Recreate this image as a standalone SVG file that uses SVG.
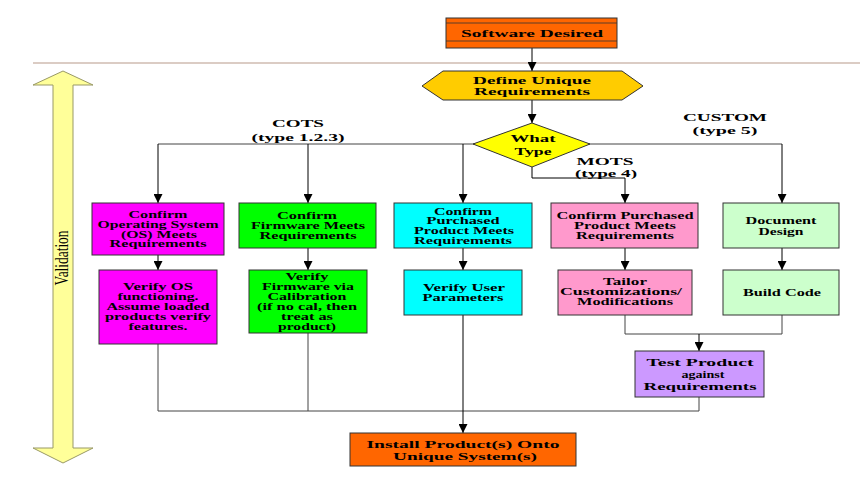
<svg xmlns="http://www.w3.org/2000/svg" width="860" height="485" viewBox="0 0 860 485">
<defs>
<marker id="ah" viewBox="0 0 10 10" refX="10" refY="5" markerWidth="9" markerHeight="9" markerUnits="userSpaceOnUse" orient="auto">
<path d="M0,0 L10,5 L0,10 z" fill="#000"/>
</marker>
<style>
.t{font-family:'Liberation Serif','DejaVu Serif','Times New Roman',serif;font-weight:bold;fill:#000;text-anchor:middle}
.s{font-size:9.5px}
.m{font-size:11px}
.l{font-size:11px}
.box{stroke:#333;stroke-width:1}
.c{fill:none;stroke:#444;stroke-width:1}
.a{fill:none;stroke:#000;stroke-width:1;marker-end:url(#ah)}
</style>
</defs>
<rect width="860" height="485" fill="#fff"/>
<line x1="33" y1="63" x2="860" y2="63" stroke="#B89A8A" stroke-width="1.2"/>
<g id="validation">
<polygon points="63,71 93,85 73,85 73,448 93,448 63,463 33,448 53,448 53,85 33,85" fill="#FFFF99" stroke="#999966" stroke-width="1"/>
<text class="t" transform="translate(68,258) rotate(-90)" style="font-size:18px;font-weight:normal" textLength="55" lengthAdjust="spacingAndGlyphs">Validation</text>
</g>
<g id="connectors">
<line class="a" x1="532" y1="48" x2="532" y2="71"/>
<line class="a" x1="532" y1="100" x2="532" y2="123"/>
<line class="c" x1="158" y1="144" x2="782" y2="144"/>
<line class="a" x1="158" y1="144" x2="158" y2="203"/>
<line class="a" x1="308" y1="144" x2="308" y2="203"/>
<line class="a" x1="463" y1="144" x2="463" y2="203"/>
<line class="a" x1="782" y1="144" x2="782" y2="203"/>
<polyline class="a" points="532,167 532,178 625,178 625,203"/>
<line class="a" x1="158" y1="255" x2="158" y2="270"/>
<line class="a" x1="308" y1="248" x2="308" y2="270"/>
<line class="a" x1="463" y1="248" x2="463" y2="270"/>
<line class="a" x1="625" y1="248" x2="625" y2="270"/>
<line class="a" x1="782" y1="248" x2="782" y2="270"/>
<polyline class="c" points="625,315 625,334 782,334 782,315"/>
<line class="a" x1="699" y1="334" x2="699" y2="351"/>
<line class="c" x1="158" y1="344" x2="158" y2="411"/>
<line class="c" x1="308" y1="333" x2="308" y2="411"/>
<line class="c" x1="699" y1="397" x2="699" y2="411"/>
<line class="c" x1="158" y1="411" x2="699" y2="411"/>
<line class="a" x1="463" y1="315" x2="463" y2="433"/>
</g>
<g id="software-desired">
<rect class="box" x="446" y="18" width="171" height="30" fill="#FF6600"/>
<line x1="446" y1="23" x2="617" y2="23" stroke="#333" stroke-width="0.8"/>
<line x1="446" y1="41" x2="617" y2="41" stroke="#333" stroke-width="0.8"/>
<text class="t m" x="532" y="37" textLength="142" lengthAdjust="spacingAndGlyphs">Software Desired</text>
</g>
<g id="define-requirements">
<polygon class="box" points="422,86 443,71 622,71 643,86 622,100 443,100" fill="#FFCC00" stroke="#999"/>
<text class="t m" x="532" y="84" textLength="118" lengthAdjust="spacingAndGlyphs">Define Unique</text>
<text class="t m" x="532" y="95" textLength="116" lengthAdjust="spacingAndGlyphs">Requirements</text>
</g>
<g id="what-type">
<polygon class="box" points="532,123 590,144 532,167 473,144" fill="#FFFF00" stroke="#999"/>
<text class="t m" x="533" y="142" textLength="45" lengthAdjust="spacingAndGlyphs">What</text>
<text class="t m" x="533" y="155" textLength="37" lengthAdjust="spacingAndGlyphs">Type</text>
</g>
<g id="labels">
<text class="t m" x="298" y="127" textLength="52" lengthAdjust="spacingAndGlyphs">COTS</text>
<text class="t m" x="298" y="141" textLength="93" lengthAdjust="spacingAndGlyphs">(type 1.2.3)</text>
<text class="t m" x="725" y="121" textLength="84" lengthAdjust="spacingAndGlyphs">CUSTOM</text>
<text class="t m" x="725" y="134" textLength="65" lengthAdjust="spacingAndGlyphs">(type 5)</text>
<text class="t m" x="605" y="165" textLength="57" lengthAdjust="spacingAndGlyphs">MOTS</text>
<text class="t m" x="606" y="177" textLength="62" lengthAdjust="spacingAndGlyphs">(type 4)</text>
</g>
<g id="confirm-os">
<rect class="box" x="92" y="203" width="132" height="52" fill="#FF00FF"/>
<text class="t s" x="158" y="218" textLength="59" lengthAdjust="spacingAndGlyphs">Confirm</text>
<text class="t s" x="158" y="228" textLength="121" lengthAdjust="spacingAndGlyphs">Operating System</text>
<text class="t s" x="159" y="238" textLength="76" lengthAdjust="spacingAndGlyphs">(OS) Meets</text>
<text class="t s" x="158" y="247" textLength="97" lengthAdjust="spacingAndGlyphs">Requirements</text>
</g>
<g id="verify-os">
<rect class="box" x="99" y="270" width="118" height="74" fill="#FF00FF"/>
<text class="t s" x="158" y="290" textLength="70" lengthAdjust="spacingAndGlyphs">Verify OS</text>
<text class="t s" x="158" y="300" textLength="81" lengthAdjust="spacingAndGlyphs">functioning.</text>
<text class="t s" x="158" y="310" textLength="103" lengthAdjust="spacingAndGlyphs">Assume loaded</text>
<text class="t s" x="158" y="320" textLength="106" lengthAdjust="spacingAndGlyphs">products verify</text>
<text class="t s" x="158" y="330" textLength="59" lengthAdjust="spacingAndGlyphs">features.</text>
</g>
<g id="confirm-firmware">
<rect class="box" x="239" y="203" width="137" height="45" fill="#00FF00"/>
<text class="t s" x="307" y="219" textLength="60" lengthAdjust="spacingAndGlyphs">Confirm</text>
<text class="t s" x="308" y="229" textLength="114" lengthAdjust="spacingAndGlyphs">Firmware Meets</text>
<text class="t s" x="308" y="239" textLength="97" lengthAdjust="spacingAndGlyphs">Requirements</text>
</g>
<g id="verify-firmware">
<rect class="box" x="249" y="270" width="118" height="63" fill="#00FF00"/>
<text class="t s" x="307" y="280" textLength="43" lengthAdjust="spacingAndGlyphs">Verify</text>
<text class="t s" x="308" y="290" textLength="92" lengthAdjust="spacingAndGlyphs">Firmware via</text>
<text class="t s" x="307" y="300" textLength="79" lengthAdjust="spacingAndGlyphs">Calibration</text>
<text class="t s" x="307" y="310" textLength="100" lengthAdjust="spacingAndGlyphs">(if no cal, then</text>
<text class="t s" x="307" y="320" textLength="52" lengthAdjust="spacingAndGlyphs">treat as</text>
<text class="t s" x="307" y="330" textLength="58" lengthAdjust="spacingAndGlyphs">product)</text>
</g>
<g id="confirm-purchased-cots">
<rect class="box" x="394" y="203" width="138" height="45" fill="#00FFFF"/>
<text class="t s" x="463" y="215" textLength="58" lengthAdjust="spacingAndGlyphs">Confirm</text>
<text class="t s" x="463" y="224" textLength="73" lengthAdjust="spacingAndGlyphs">Purchased</text>
<text class="t s" x="464" y="234" textLength="100" lengthAdjust="spacingAndGlyphs">Product Meets</text>
<text class="t s" x="463" y="244" textLength="98" lengthAdjust="spacingAndGlyphs">Requirements</text>
</g>
<g id="verify-user">
<rect class="box" x="404" y="270" width="118" height="45" fill="#00FFFF"/>
<text class="t s" x="464" y="291" textLength="82" lengthAdjust="spacingAndGlyphs">Verify User</text>
<text class="t s" x="463" y="301" textLength="81" lengthAdjust="spacingAndGlyphs">Parameters</text>
</g>
<g id="confirm-purchased-mots">
<rect class="box" x="551" y="203" width="147" height="45" fill="#FF99CC"/>
<text class="t s" x="625" y="219" textLength="137" lengthAdjust="spacingAndGlyphs">Confirm Purchased</text>
<text class="t s" x="625" y="229" textLength="102" lengthAdjust="spacingAndGlyphs">Product Meets</text>
<text class="t s" x="625" y="239" textLength="98" lengthAdjust="spacingAndGlyphs">Requirements</text>
</g>
<g id="tailor">
<rect class="box" x="558" y="270" width="134" height="45" fill="#FF99CC"/>
<text class="t s" x="625" y="285" textLength="44" lengthAdjust="spacingAndGlyphs">Tailor</text>
<text class="t s" x="621" y="295" textLength="122" lengthAdjust="spacingAndGlyphs">Customizations/</text>
<text class="t s" x="625" y="305" textLength="96" lengthAdjust="spacingAndGlyphs">Modifications</text>
</g>
<g id="document-design">
<rect class="box" x="723" y="203" width="116" height="45" fill="#CCFFCC"/>
<text class="t s" x="781" y="224" textLength="71" lengthAdjust="spacingAndGlyphs">Document</text>
<text class="t s" x="781" y="235" textLength="45" lengthAdjust="spacingAndGlyphs">Design</text>
</g>
<g id="build-code">
<rect class="box" x="723" y="270" width="116" height="45" fill="#CCFFCC"/>
<text class="t s" x="782" y="296" textLength="78" lengthAdjust="spacingAndGlyphs">Build Code</text>
</g>
<g id="test-product">
<rect class="box" x="635" y="351" width="129" height="46" fill="#CC99FF"/>
<text class="t l" x="700" y="366" textLength="107" lengthAdjust="spacingAndGlyphs">Test Product</text>
<text class="t l" x="703" y="377.5" textLength="43" lengthAdjust="spacingAndGlyphs">against</text>
<text class="t l" x="700" y="390" textLength="113" lengthAdjust="spacingAndGlyphs">Requirements</text>
</g>
<g id="install">
<rect class="box" x="350" y="433" width="226" height="33" fill="#FF6600"/>
<text class="t l" x="463" y="447.5" textLength="193" lengthAdjust="spacingAndGlyphs">Install Product(s) Onto</text>
<text class="t l" x="465" y="460" textLength="144" lengthAdjust="spacingAndGlyphs">Unique System(s)</text>
</g>
</svg>
